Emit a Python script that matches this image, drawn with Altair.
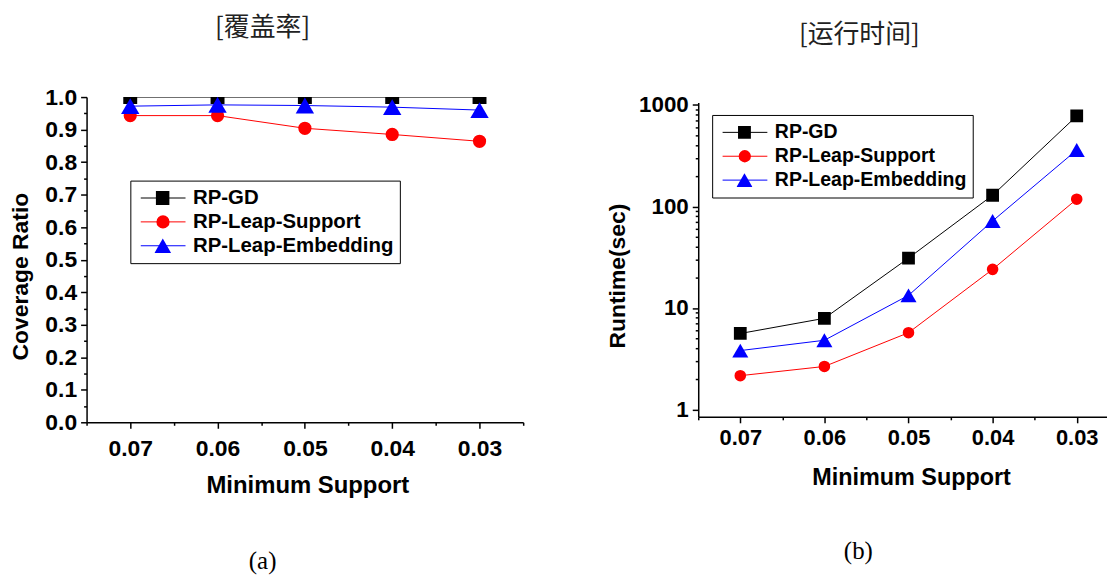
import math
import altair as alt
import pandas as pd

# ---- data -------------------------------------------------------------
support = [0.07, 0.06, 0.05, 0.04, 0.03]
series = ["RP-GD", "RP-Leap-Support", "RP-Leap-Embedding"]
colors = ["#000000", "#ff0000", "#0000ff"]
shapes = ["square", "circle", "triangle-up"]

coverage_gd = [1.0, 1.0, 1.0, 1.0, 1.0]
coverage_support = [0.943, 0.943, 0.904, 0.885, 0.864]
coverage_embed = [0.972, 0.976, 0.974, 0.969, 0.960]

runtime_gd = [5.6, 7.9, 31.0, 129.0, 780.0]
runtime_support = [2.15, 2.65, 5.7, 24.0, 118.0]
runtime_embed = [3.8, 4.8, 13.3, 72.0, 360.0]

x_ticks = [0.075, 0.07, 0.065, 0.06, 0.055, 0.05, 0.045, 0.04, 0.035, 0.03, 0.025]
cov_ticks = [0.0, 0.05, 0.1, 0.15, 0.2, 0.25, 0.3, 0.35, 0.4, 0.45, 0.5,
             0.55, 0.6, 0.65, 0.7, 0.75, 0.8, 0.85, 0.9, 0.95, 1.0]
run_ticks = [1, 2, 3, 4, 5, 6, 7, 8, 9, 10, 20, 30, 40, 50, 60, 70, 80, 90,
             100, 200, 300, 400, 500, 600, 700, 800, 900, 1000]


def long(values):
    rows = []
    for s, vals in zip(series, values):
        for x, v in zip(support, vals):
            rows.append({"support": x, "series": s, "value": v})
    return pd.DataFrame(rows)


cov_df = long([coverage_gd, coverage_support, coverage_embed])
run_df = long([runtime_gd, runtime_support, runtime_embed])

FONT = "Liberation Sans"
MAJ_X = "abs(datum.value*100 - round(datum.value*100)) < 0.001"

# legend geometry (pixels)
LEG_PAD = 6
LEG_ROW = 23
LEG_ROWPAD = 1
LEG_SYM_OFF = 4
LEG_LINE = 45


def x_axis(label_size, title_size, label_pad, title_pad, title_x):
    return alt.Axis(
        values=x_ticks, title="Minimum Support",
        labelExpr=f"{MAJ_X} ? format(datum.value, '.2f') : ''",
        tickSize={"condition": {"test": MAJ_X, "value": 6}, "value": 3},
        labelFontSize=label_size, titleFontSize=title_size, titleX=title_x,
        labelPadding=label_pad, titlePadding=title_pad, labelOverlap=False,
        labelFlush=False, grid=False,
    )


def panel(df, x_enc, y_enc, sizes, leg_sizes, width, height, title, title_offset, title_dx,
          leg_x, leg_y, leg_font, caption, cap_x, cap_y):
    # main legend: frame, line segments and labels
    main_leg = alt.Legend(
        orient="none", legendX=leg_x, legendY=leg_y, title=None,
        symbolType="stroke", symbolSize=LEG_LINE ** 2, symbolStrokeWidth=1,
        symbolOffset=LEG_SYM_OFF, clipHeight=LEG_ROW, rowPadding=LEG_ROWPAD,
        labelFont=FONT, labelFontWeight="bold", labelFontSize=leg_font, labelColor="black",
        strokeColor="black", fillColor="white", padding=LEG_PAD, labelOffset=7,
        symbolOpacity=1, labelLimit=400, zindex=1,
    )
    layers = [
        alt.Chart(df).mark_line(strokeWidth=1, clip=True).encode(
            x=x_enc, y=y_enc,
            color=alt.Color("series:N", scale=alt.Scale(domain=series, range=colors), legend=main_leg),
        )
    ]
    cx = leg_x + LEG_PAD + LEG_SYM_OFF + LEG_LINE / 2
    for k, (s, c, shp, sz, lsz) in enumerate(zip(series, colors, shapes, sizes, leg_sizes)):
        cy = leg_y + LEG_PAD + LEG_ROW / 2 + k * (LEG_ROW + LEG_ROWPAD)
        mk_leg = alt.Legend(
            orient="none", legendX=cx - math.sqrt(lsz) / 2, legendY=cy - LEG_ROW / 2,
            title=None, symbolType=shp, symbolSize=lsz, symbolStrokeWidth=0,
            symbolFillColor=c, symbolOpacity=1, clipHeight=LEG_ROW, padding=0,
            labelExpr="''", labelFontSize=1, labelOffset=0, zindex=2,
        )
        layers.append(
            alt.Chart(df).transform_filter(alt.datum.series == s)
            .mark_point(filled=True, opacity=1, clip=True, shape=shp, size=sz)
            .encode(x=x_enc, y=y_enc,
                    color=alt.Color("series:N", scale=alt.Scale(domain=[s], range=[c]), legend=mk_leg))
        )
    cap = alt.Chart(pd.DataFrame({"cap": [caption]})).mark_text(
        font="Liberation Serif", fontSize=25, color="black", baseline="middle", align="center"
    ).encode(x=alt.value(cap_x), y=alt.value(cap_y), text="cap:N")
    layers.append(cap)
    return alt.layer(*layers).resolve_scale(color="independent").properties(
        width=width, height=height,
        title=alt.TitleParams(title, font="Noto Sans CJK SC", fontSize=26, fontWeight="normal",
                              color="#222222", offset=title_offset, dx=title_dx,
                              anchor="middle", frame="group"),
    )


# ---- left panel: coverage ratio --------------------------------------
MAJ_Y = "abs(datum.value*10 - round(datum.value*10)) < 0.001"
left = panel(
    cov_df,
    alt.X("support:Q", scale=alt.Scale(domain=[0.025, 0.075], reverse=True, nice=False, zero=False),
          axis=x_axis(23, 24, 9, 14, 222)),
    alt.Y("value:Q", scale=alt.Scale(domain=[0, 1], nice=False, zero=False),
          axis=alt.Axis(values=cov_ticks, title="Coverage Ratio",
                        labelExpr=f"{MAJ_Y} ? format(datum.value, '.1f') : ''",
                        tickSize={"condition": {"test": MAJ_Y, "value": 6}, "value": 3},
                        labelFontSize=23, titleFontSize=23,
                        labelPadding=4, titlePadding=12, titleY=180, labelOverlap=False,
                        labelFlush=False, grid=False)),
    [196, 177, 340], [196, 177, 280], 439, 327, "[覆盖率]", 45, -42.5,
    44, 84, 20.5, "(a)", 177, 467,
)

# ---- right panel: runtime ---------------------------------------------
MAJ_R = "indexof([1, 10, 100, 1000], datum.value) >= 0"
right = panel(
    run_df,
    alt.X("support:Q", scale=alt.Scale(domain=[0.0264, 0.075], reverse=True, nice=False, zero=False),
          axis=x_axis(22, 23.5, 5, 17, 214)),
    alt.Y("value:Q", scale=alt.Scale(type="log", domain=[0.845, 1058], nice=False),
          axis=alt.Axis(values=run_ticks, title="Runtime(sec)",
                        labelExpr=f"{MAJ_R} ? format(datum.value, 'd') : ''",
                        tickSize={"condition": {"test": MAJ_R, "value": 6}, "value": 3},
                        labelFontSize=22.5, titleFontSize=23,
                        labelPadding=4, titlePadding=9, titleY=174, labelOverlap=False,
                        labelFlush=False, grid=False)),
    [165, 135, 260], [169, 154, 256], 411, 316, "[运行时间]", 46, -43.5,
    14, 12.5, 19.6, "(b)", 161, 451,
)

chart = alt.hconcat(left, right, spacing=176, bounds="flush", center=True).properties(
    padding={"left": 2, "top": 6, "right": 0, "bottom": 0},
    background="white",
).configure_view(stroke=None).configure_axis(
    labelFont=FONT, labelFontWeight="bold", labelColor="black",
    titleFont=FONT, titleFontWeight="bold", titleColor="black",
    domainColor="black", domainWidth=1.5, tickColor="black", tickWidth=1.5,
)

chart.save("out.html", embed_options={"renderer": "svg", "actions": False})
